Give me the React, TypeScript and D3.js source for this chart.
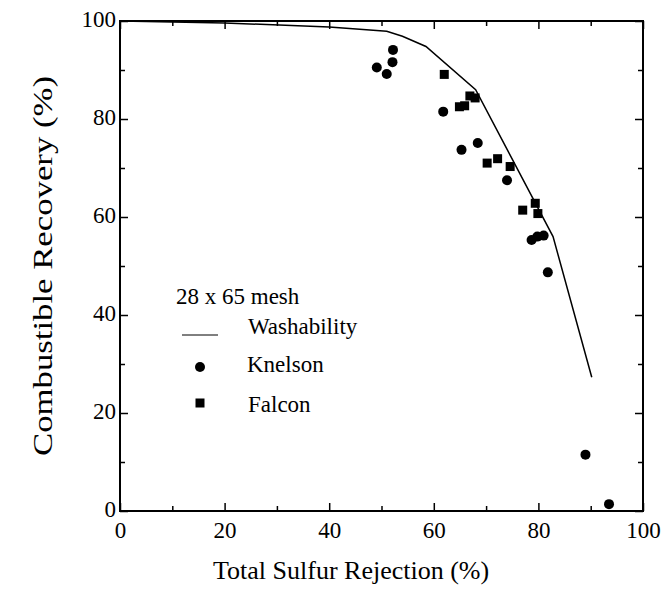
import { useEffect, useRef } from 'react';
import * as d3 from 'd3';

// Washability curve
const washX = [0, 20, 40, 51, 54, 58.5, 68, 82.8, 90.2];
const washY = [100, 99.6, 98.8, 97.9, 96.9, 94.8, 86, 56, 27.3];

// Knelson concentrator
const knelsonX = [49.1, 51.0, 52.1, 52.2, 61.8, 65.3, 68.4, 74.0, 78.7, 79.8, 81.0, 81.8, 89.0, 93.5];
const knelsonY = [90.5, 89.2, 91.6, 94.1, 81.5, 73.7, 75.1, 67.5, 55.3, 56.0, 56.2, 48.7, 11.5, 1.4];

// Falcon concentrator
const falconX = [62.0, 64.9, 65.9, 66.9, 67.9, 70.2, 72.2, 74.6, 77.0, 79.4, 79.9];
const falconY = [89.1, 82.5, 82.7, 84.7, 84.3, 71.0, 71.9, 70.3, 61.4, 62.8, 60.7];

const majorTicks = [0, 20, 40, 60, 80, 100];
const minorTicks = [10, 30, 50, 70, 90];

const FONT = '"Liberation Serif", "Times New Roman", serif';

function App() {
  const ref = useRef<SVGSVGElement>(null);

  useEffect(() => {
    const svg = d3.select(ref.current);
    svg.selectAll('*').remove();

    const left = 120, right = 643, top = 21, bottom = 511;

    const x = d3.scaleLinear().domain([0, 100]).range([left, right]);
    const y = d3.scaleLinear().domain([0, 100]).range([bottom, top]);

    // frame
    svg.append('rect')
      .attr('x', left).attr('y', top)
      .attr('width', right - left).attr('height', bottom - top)
      .attr('fill', 'none').attr('stroke', '#000').attr('stroke-width', 2);

    const noLabel = () => '';

    // labelled axes
    const gl = svg.append('g').attr('transform', `translate(${left},0)`)
      .call(d3.axisLeft(y).tickValues(majorTicks).tickSize(-8).tickSizeOuter(0).tickPadding(4));
    gl.selectAll('text').attr('dy', '0.22em');

    svg.append('g').attr('transform', `translate(0,${bottom})`)
      .call(d3.axisBottom(x).tickValues(majorTicks).tickSize(-8).tickSizeOuter(0).tickPadding(11));

    // mirrored axes without labels
    svg.append('g').attr('transform', `translate(${right},0)`)
      .call(d3.axisRight(y).tickValues(majorTicks).tickSize(-8).tickSizeOuter(0).tickFormat(noLabel));
    svg.append('g').attr('transform', `translate(0,${top})`)
      .call(d3.axisTop(x).tickValues(majorTicks).tickSize(-8).tickSizeOuter(0).tickFormat(noLabel));

    // minor ticks
    svg.append('g').attr('transform', `translate(${left},0)`)
      .call(d3.axisLeft(y).tickValues(minorTicks).tickSize(-5).tickFormat(noLabel));
    svg.append('g').attr('transform', `translate(${right},0)`)
      .call(d3.axisRight(y).tickValues(minorTicks).tickSize(-5).tickFormat(noLabel));
    svg.append('g').attr('transform', `translate(0,${bottom})`)
      .call(d3.axisBottom(x).tickValues(minorTicks).tickSize(-5).tickFormat(noLabel));
    svg.append('g').attr('transform', `translate(0,${top})`)
      .call(d3.axisTop(x).tickValues(minorTicks).tickSize(-5).tickFormat(noLabel));

    svg.selectAll('.domain').remove();
    svg.selectAll('.tick line').attr('stroke', '#000').attr('stroke-width', 1.5);
    svg.selectAll('.tick text')
      .attr('fill', '#000')
      .style('font-family', FONT)
      .style('font-size', '23px');

    // washability line
    const wash = washX.map((v, i) => [v, washY[i]] as [number, number]);
    svg.append('path')
      .datum(wash)
      .attr('fill', 'none')
      .attr('stroke', '#000')
      .attr('stroke-width', 1.5)
      .attr('d', d3.line<[number, number]>().x((d) => x(d[0])).y((d) => y(d[1])));

    // knelson points
    svg.append('g').selectAll('circle')
      .data(knelsonX.map((v, i) => [v, knelsonY[i]]))
      .enter()
      .append('circle')
      .attr('cx', (d) => x(d[0]))
      .attr('cy', (d) => y(d[1]))
      .attr('r', 5)
      .attr('fill', '#000');

    // falcon points
    const sq = 9;
    svg.append('g').selectAll('rect')
      .data(falconX.map((v, i) => [v, falconY[i]]))
      .enter()
      .append('rect')
      .attr('x', (d) => x(d[0]) - sq / 2)
      .attr('y', (d) => y(d[1]) - sq / 2)
      .attr('width', sq)
      .attr('height', sq)
      .attr('fill', '#000');

    // legend
    const lg = svg.append('g').style('font-family', FONT).style('font-size', '23px');
    lg.append('text').attr('x', 176).attr('y', 304).text('28 x 65 mesh');
    lg.append('line').attr('x1', 182).attr('x2', 218).attr('y1', 335).attr('y2', 335)
      .attr('stroke', '#000').attr('stroke-width', 1);
    lg.append('text').attr('x', 248).attr('y', 334).text('Washability');
    lg.append('circle').attr('cx', 200).attr('cy', 367).attr('r', 5).attr('fill', '#000');
    lg.append('text').attr('x', 247).attr('y', 372).text('Knelson');
    lg.append('rect').attr('x', 200 - 4.5).attr('y', 403 - 4.5).attr('width', 9).attr('height', 9).attr('fill', '#000');
    lg.append('text').attr('x', 248).attr('y', 412).text('Falcon');

    // axis titles
    svg.append('text')
      .attr('x', 213).attr('y', 579)
      .style('font-family', FONT).style('font-size', '26px')
      .text('Total Sulfur Rejection (%)');

    svg.append('text')
      .attr('transform', 'translate(52,266) rotate(-90)')
      .attr('text-anchor', 'middle')
      .attr('textLength', 380)
      .attr('lengthAdjust', 'spacingAndGlyphs')
      .style('font-family', FONT).style('font-size', '27px')
      .text('Combustible Recovery (%)');
  }, []);

  return (
    <svg
      ref={ref}
      width={669}
      height={590}
      style={{ position: 'absolute', left: 0, top: 0, background: '#fff' }}
    />
  );
}

export default App;
